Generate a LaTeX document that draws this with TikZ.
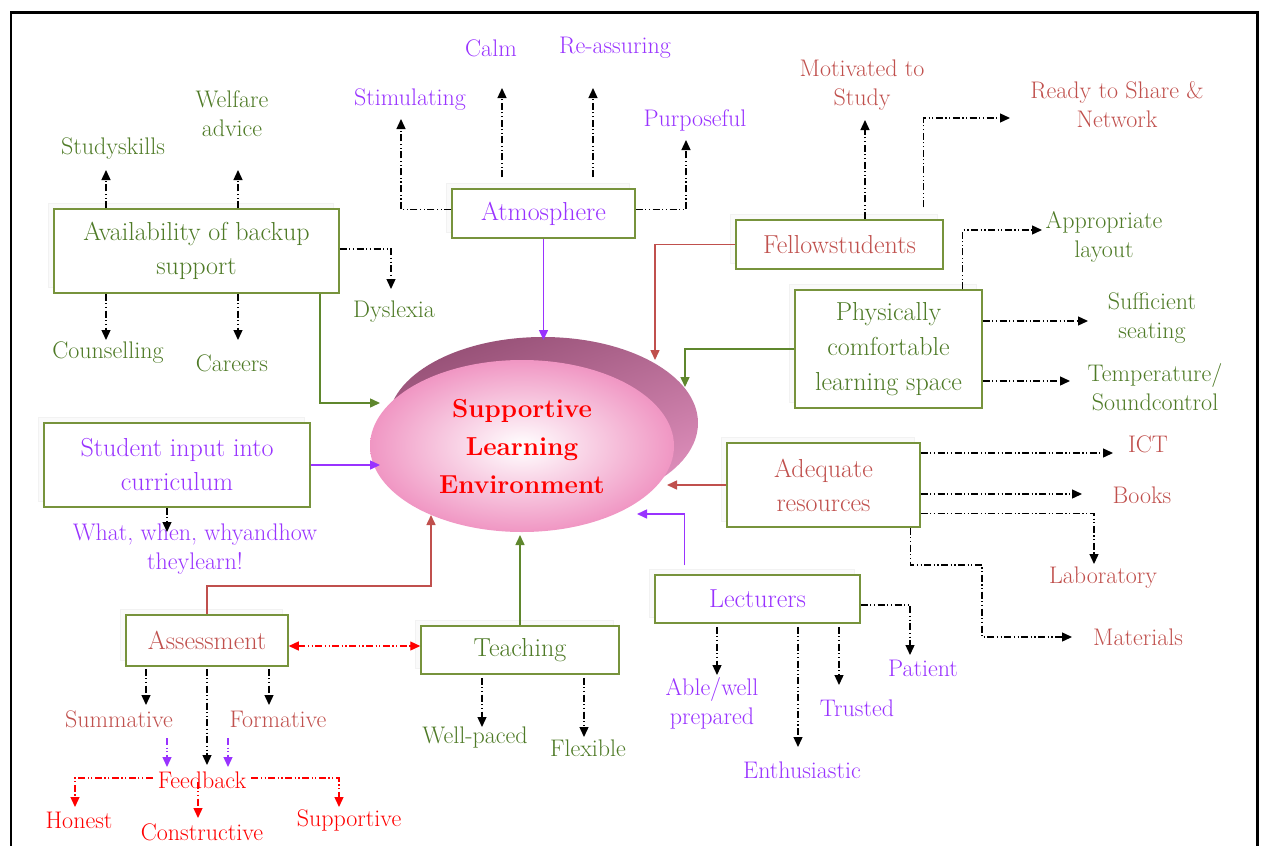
\documentclass[tikz,border=0pt]{standalone}
\usetikzlibrary{arrows.meta,calc,shapes.geometric,shadows}
\definecolor{gtext}{RGB}{78,122,38}
\definecolor{gbox}{RGB}{119,147,60}
\definecolor{gline}{RGB}{95,135,45}
\definecolor{purp}{RGB}{153,51,255}
\definecolor{salm}{RGB}{192,80,77}
\definecolor{bred}{RGB}{255,0,0}
\definecolor{pinkE}{RGB}{240,150,195}
\definecolor{mauveD}{RGB}{150,80,118}
\definecolor{mauveL}{RGB}{225,145,190}
\begin{document}
\begin{tikzpicture}[x=1pt,y=-1pt,
  box/.style={draw=gbox, line width=1.5pt, fill=white, inner sep=0pt, align=center,
    font=\fontsize{26}{34}\selectfont,
    general shadow={shadow xshift=-6pt, shadow yshift=6pt, fill=black!2, draw=black!5, line width=0.8pt}},
  lbl/.style={align=center, font=\fontsize{24}{29}\selectfont, inner sep=1pt},
  tipA/.style={-{Triangle[length=10pt,width=9pt]}},
  dpat/.style={dash pattern=on 7pt off 2.5pt on 1.2pt off 2.5pt on 1.2pt off 2.5pt},
  dd/.style={tipA, black, line width=1.3pt, dpat},
  pdd/.style={tipA, purp, line width=1.3pt, dpat},
  rdd/.style={tipA, bred, line width=1.3pt, dpat},
  conn/.style={tipA, line width=1.5pt},
]
\useasboundingbox (0,0) rectangle (1261,846);
% frame
\draw[line width=2.2pt] (11,846) -- (11,12.5) -- (1257.5,12.5) -- (1257.5,846);

% central ellipses
\shade[top color=mauveD, bottom color=mauveL, shading angle=20] (543,423) ellipse [x radius=155pt, y radius=86pt];
\node[ellipse, minimum width=304pt, minimum height=172pt, inner sep=0pt,
  shading=radial, inner color=white, outer color=pinkE, text=bred, align=center,
  font=\fontsize{26}{38}\selectfont\bfseries] (sle) at (522,446) {Supportive\\Learning\\Environment};

% boxes
\node[box, text=gtext, minimum width=285pt, minimum height=84pt] (avail) at (196.5,251) {Availability of backup\\support};
\node[box, text=purp, minimum width=183pt, minimum height=49pt] (atmos) at (543.5,213.5) {Atmosphere};
\node[box, text=salm, minimum width=207pt, minimum height=49pt] (fellow) at (839.5,244.5) {Fellowstudents};
\node[box, text=gtext, minimum width=187pt, minimum height=118pt, font=\fontsize{26}{35}\selectfont] (phys) at (888.5,349) {Physically\\comfortable\\learning space};
\node[box, text=purp, minimum width=266pt, minimum height=84pt] (student) at (177,465) {Student input into\\curriculum};
\node[box, text=salm, minimum width=193pt, minimum height=84pt] (adequate) at (823.5,485) {Adequate\\resources};
\node[box, text=purp, minimum width=205pt, minimum height=48pt] (lect) at (757.5,599) {Lecturers};
\node[box, text=gtext, minimum width=198pt, minimum height=48pt] (teach) at (520,650) {Teaching};
\node[box, text=salm, minimum width=162pt, minimum height=51pt] (assess) at (207,640.5) {Assessment};

% leaf labels
\node[lbl, text=gtext] (studyskills) at (113,149) {Studyskills};
\node[lbl, text=gtext] (welfare) at (232,113.5) {Welfare\\advice};
\node[lbl, text=gtext] (counselling) at (108,353) {Counselling};
\node[lbl, text=gtext] (careers) at (232,363) {Careers};
\node[lbl, text=gtext] (dyslexia) at (394,312) {Dyslexia};
\node[lbl, text=purp] (stimulating) at (410,100) {Stimulating};
\node[lbl, text=purp] (calm) at (491,48) {Calm};
\node[lbl, text=purp] (reassuring) at (615,48) {Re-assuring};
\node[lbl, text=purp] (purposeful) at (695,120) {Purposeful};
\node[lbl, text=salm] (motivated) at (862,85.5) {Motivated to\\Study};
\node[lbl, text=salm] (ready) at (1117,105) {Ready to Share \&\\Network};
\node[lbl, text=gtext] (approp) at (1104,237) {Appropriate\\layout};
\node[lbl, text=gtext] (suff) at (1152,318.5) {Sufficient\\seating};
\node[lbl, text=gtext] (temp) at (1155,387) {Temperature/\\Soundcontrol};
\node[lbl, text=salm] (ict) at (1148,444) {ICT};
\node[lbl, text=salm] (books) at (1142,495) {Books};
\node[lbl, text=salm] (lab) at (1103,578) {Laboratory};
\node[lbl, text=salm] (materials) at (1138,637) {Materials};
\node[lbl, text=purp] (able) at (712,703) {Able/well\\prepared};
\node[lbl, text=purp] (enth) at (802,770) {Enthusiastic};
\node[lbl, text=purp] (trusted) at (857,708) {Trusted};
\node[lbl, text=purp] (patient) at (923,668) {Patient};
\node[lbl, text=gtext] (wellpaced) at (475,738) {Well-paced};
\node[lbl, text=gtext] (flexible) at (588,748) {Flexible};
\node[lbl, text=purp] (whatwhen) at (195,549.5) {What, when, whyandhow\\theylearn!};
\node[lbl, text=salm] (summative) at (119,719) {Summative};
\node[lbl, text=salm] (formative) at (278,719) {Formative};
\node[lbl, text=bred] (feedback) at (202,780) {Feedback};
\node[lbl, text=bred] (honest) at (79,820) {Honest};
\node[lbl, text=bred] (constructive) at (202,832) {Constructive};
\node[lbl, text=bred] (supportive) at (349,820) {Supportive};

% backup support branches
\coordinate (tSS) at (106,170);
\coordinate (tWA) at (238,170);
\coordinate (tCo) at (106,340);
\coordinate (tCa) at (238,340);
\coordinate (tDy) at (391,289);
\draw[dd] (avail.north -| tSS) -- (tSS);
\draw[dd] (avail.north -| tWA) -- (tWA);
\draw[dd] (avail.south -| tCo) -- (tCo);
\draw[dd] (avail.south -| tCa) -- (tCa);
\draw[dd] ($(avail.east)+(0,-2)$) -| (tDy);

% atmosphere branches
\coordinate (tSt) at (401,119);
\coordinate (tCm) at (502,88);
\coordinate (tRe) at (593,88);
\coordinate (tPu) at (686,140);
\draw[dd] ($(atmos.west)+(0,-4)$) -| (tSt);
\draw[dd, shorten <=11pt] (atmos.north -| tCm) -- (tCm);
\draw[dd, shorten <=11pt] (atmos.north -| tRe) -- (tRe);
\draw[dd] ($(atmos.east)+(0,-4)$) -| (tPu);

% fellow students branches
\coordinate (tMo) at (865,120);
\coordinate (tRd) at (1010,118);
\draw[dd] (fellow.north -| tMo) -- (tMo);
\draw[dd, shorten <=12pt] ($(fellow.north east)+(-20,0)$) |- (tRd);

% physical space branches
\coordinate (tAp) at (1042,230);
\coordinate (tSu) at (1088,321);
\coordinate (tTe) at (1070,381);
\draw[dd] ($(phys.north east)+(-20,0)$) |- (tAp);
\draw[dd] (phys.east |- tSu) -- (tSu);
\draw[dd] (phys.east |- tTe) -- (tTe);

% resources branches
\coordinate (tIC) at (1113,453);
\coordinate (tBo) at (1082,494);
\coordinate (tLa) at (1094,564);
\coordinate (mB) at (982,565);
\coordinate (tMa) at (1072,637);
\draw[dd] (adequate.east |- tIC) -- (tIC);
\draw[dd] (adequate.east |- tBo) -- (tBo);
\draw[dd] ($(adequate.north east)+(0,71)$) -| (tLa);
\draw[dd] ($(adequate.south east)+(-10,0)$) |- (mB) |- (tMa);

% lecturers branches
\coordinate (tAb) at (717,675);
\coordinate (tEn) at (798,747);
\coordinate (tTr) at (839,685);
\coordinate (tPa) at (910,655);
\draw[dd, shorten <=3pt] (lect.south -| tAb) -- (tAb);
\draw[dd, shorten <=3pt] (lect.south -| tEn) -- (tEn);
\draw[dd, shorten <=3pt] (lect.south -| tTr) -- (tTr);
\draw[dd] ($(lect.east)+(0,6)$) -| (tPa);

% teaching branches
\coordinate (tWe) at (482,727);
\coordinate (tFl) at (584,737);
\draw[dd, shorten <=3pt] (teach.south -| tWe) -- (tWe);
\draw[dd, shorten <=3pt] (teach.south -| tFl) -- (tFl);

% assessment branches
\coordinate (tSm) at (146,705);
\coordinate (tFb) at (207,765);
\coordinate (tFo) at (269,705);
\draw[dd, shorten <=2pt] (assess.south -| tSm) -- (tSm);
\draw[dd, shorten <=2pt] (assess.south -| tFb) -- (tFb);
\draw[dd, shorten <=2pt] (assess.south -| tFo) -- (tFo);
\coordinate (sA) at (167,738);
\coordinate (sB) at (167,767);
\coordinate (fA) at (228,738);
\coordinate (fB) at (228,767);
\draw[pdd] (sA) -- (sB);
\draw[pdd] (fA) -- (fB);
\coordinate (dA) at (0,646);
\draw[rdd, {Triangle[length=10pt,width=9pt]}-{Triangle[length=10pt,width=9pt]}] (assess.east |- dA) -- (teach.west |- dA);

% feedback branches
\coordinate (tHo) at (75,807);
\coordinate (tSp) at (339,807);
\coordinate (tCn) at (198,818);
\draw[rdd, shorten <=4pt] ($(feedback.west)+(0,-2)$) -| (tHo);
\draw[rdd, shorten <=4pt] ($(feedback.east)+(0,-2)$) -| (tSp);
\draw[rdd] ($(feedback.south)+(-4,-8)$) -- (tCn);

% student input label arrow
\coordinate (tWh) at (167,532);
\draw[dd] (student.south -| tWh) -- (tWh);

% connectors into central ellipse
\coordinate (eAv) at (380,403);
\coordinate (eSt) at (380,465);
\coordinate (eAt) at (543.5,340);
\coordinate (eFe) at (655,360);
\coordinate (ePh) at (685,387);
\coordinate (eAd) at (667,485);
\coordinate (eLe) at (637,514);
\coordinate (eTe) at (520,535);
\coordinate (bAs) at (431,586);
\coordinate (eAs) at (431,515);
\draw[conn, gline] ($(avail.south east)+(-20,0)$) |- (eAv);
\draw[conn, purp] (student.east) -- (eSt);
\draw[conn, purp] (atmos.south) -- (eAt);
\draw[conn, salm] (fellow.west) -| (eFe);
\draw[conn, gline] (phys.west) -| (ePh);
\draw[conn, salm] (adequate.west) -- (eAd);
\draw[conn, purp, shorten <=9pt] ($(lect.north west)+(30,0)$) |- (eLe);
\draw[conn, gline] (teach.north) -- (eTe);
\draw[conn, salm] (assess.north) |- (bAs) -- (eAs);
\end{tikzpicture}
\end{document}
